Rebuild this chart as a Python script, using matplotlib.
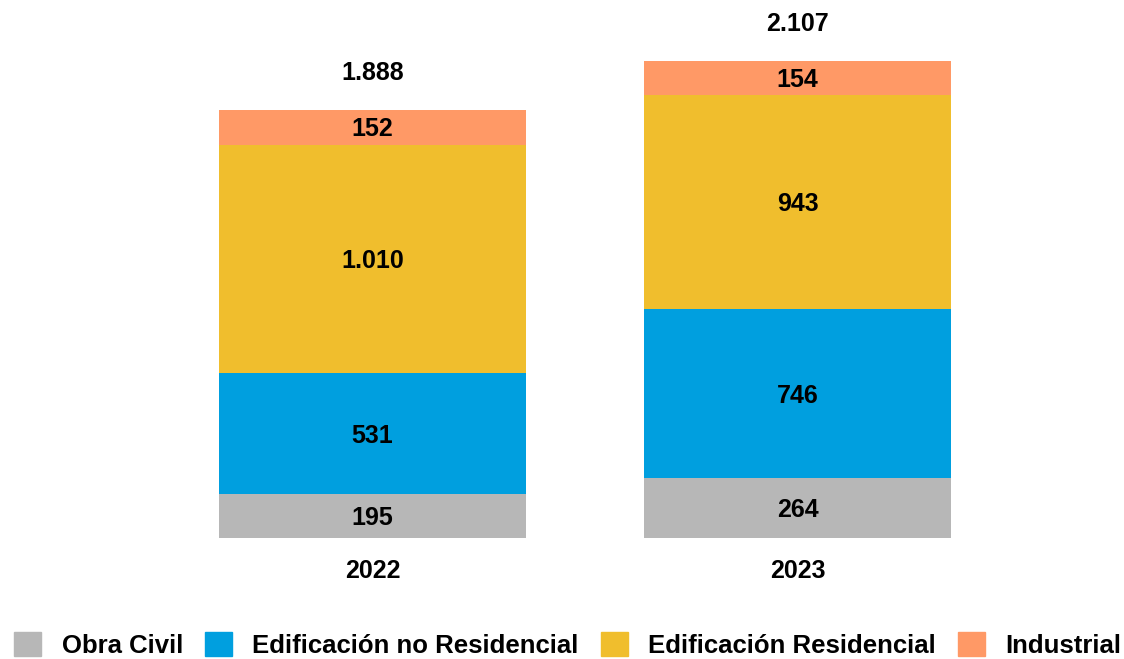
import numpy as np
import matplotlib
matplotlib.use("Agg")
from matplotlib import pyplot as plt
from matplotlib.patches import Patch

plt.rcParams['font.family'] = ['Liberation Sans', 'DejaVu Sans']
plt.rcParams['font.weight'] = 'bold'

# data
years = ['2022', '2023']
obra_civil = [195, 264]
edif_no_res = [531, 746]
edif_res = [1010, 943]
industrial = [152, 154]

series = [obra_civil, edif_no_res, edif_res, industrial]
names = ['Obra Civil', 'Edificación no Residencial', 'Edificación Residencial', 'Industrial']
colors = ['#b7b7b7', '#009fdf', '#f0be2d', '#ff9966']


def fmt(v):
    return '{:,}'.format(v).replace(',', '.')


fig = plt.figure(figsize=(11.24, 6.59), dpi=100)
ax = fig.add_axes([0, 121 / 659, 1, 538 / 659])

x = np.arange(len(years))
bottom = np.zeros(len(years))
for vals, col in zip(series, colors):
    vals = np.array(vals)
    ax.bar(x, vals, width=0.722, bottom=bottom, color=col)
    for xi, b, v in zip(x, bottom, vals):
        ax.annotate(fmt(v), (xi, b + v / 2), xytext=(0, -2), textcoords='offset pixels',
                    ha='center', va='center', fontsize=18, fontweight='bold')
    bottom = bottom + vals

# totals
for xi, t in zip(x, bottom):
    ax.annotate(fmt(int(t)), (xi, t), xytext=(0, 37), textcoords='offset pixels',
                ha='center', va='center', fontsize=18, fontweight='bold')

# years under bars
for xi, yr in zip(x, years):
    ax.annotate(yr, (xi, 0), xytext=(0, -33), textcoords='offset pixels',
                ha='center', va='center', fontsize=18, fontweight='bold', annotation_clip=False)

ax.set_xlim(-372.5 / 425, (1124 - 372.5) / 425)
ax.set_ylim(0, 538 / 0.2266)
ax.axis('off')

handles = [Patch(color=c, label=n) for c, n in zip(colors, names)]
fig.legend(handles=handles, loc='center', bbox_to_anchor=(0.505, 0.021), ncol=4,
           frameon=False, fontsize=18.5, handlelength=1.05, handleheight=1.05,
           handletextpad=0.8, columnspacing=0.85, borderpad=0, borderaxespad=0)

plt.savefig('out.png', dpi=100)
